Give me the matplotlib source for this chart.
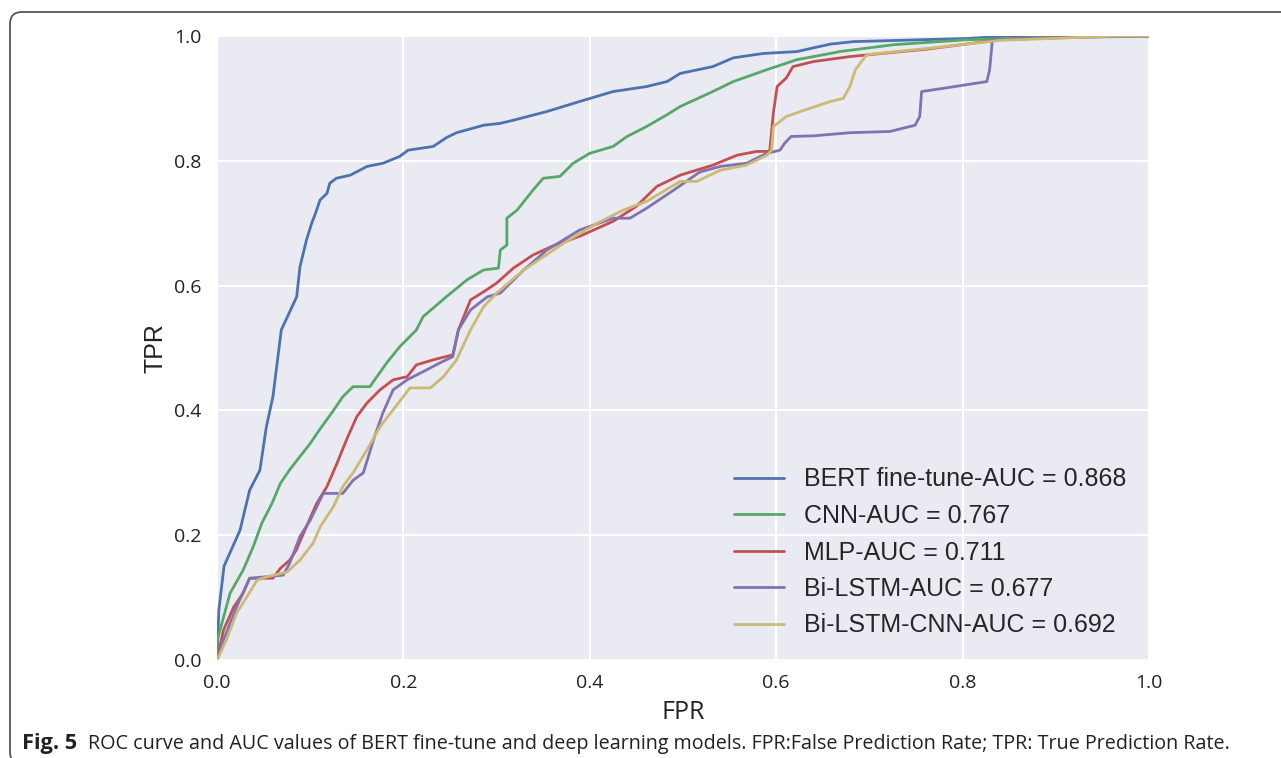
import matplotlib
matplotlib.use("Agg")
import matplotlib.pyplot as plt
from matplotlib.patches import FancyBboxPatch

plt.style.use("seaborn-v0_8-darkgrid")

# ROC curves
bert_fpr = [0, 0.002, 0.0075, 0.0104, 0.0247, 0.035, 0.046, 0.053, 0.060, 0.069, 0.0855, 0.089, 0.096,
            0.1016, 0.105, 0.1105, 0.118, 0.121, 0.128, 0.143, 0.161, 0.178, 0.196, 0.205, 0.232, 0.246,
            0.257, 0.286, 0.304, 0.318, 0.354, 0.389, 0.425, 0.461, 0.483, 0.497, 0.532, 0.554, 0.586,
            0.622, 0.658, 0.683, 0.804, 0.85, 1.0]
bert_tpr = [0, 0.08, 0.15, 0.16, 0.208, 0.272, 0.304, 0.374, 0.422, 0.529, 0.582, 0.630, 0.673,
            0.700, 0.713, 0.737, 0.748, 0.764, 0.772, 0.777, 0.791, 0.796, 0.807, 0.817, 0.823, 0.837,
            0.845, 0.857, 0.860, 0.865, 0.879, 0.895, 0.911, 0.919, 0.927, 0.940, 0.951, 0.965, 0.972,
            0.975, 0.987, 0.991, 0.996, 1.0, 1.0]

cnn_fpr = [0, 0, 0.014, 0.028, 0.039, 0.048, 0.059, 0.068, 0.078, 0.089, 0.1, 0.11, 0.125, 0.135, 0.146,
           0.164, 0.182, 0.196, 0.214, 0.221, 0.246, 0.268, 0.286, 0.302, 0.304, 0.311, 0.311, 0.322,
           0.339, 0.35, 0.368, 0.382, 0.4, 0.425, 0.44, 0.461, 0.483, 0.497, 0.532, 0.554, 0.59, 0.622,
           0.658, 0.668, 0.726, 0.804, 0.947, 1.0]
cnn_tpr = [0, 0.03, 0.107, 0.144, 0.182, 0.219, 0.251, 0.283, 0.305, 0.326, 0.347, 0.369, 0.4, 0.422, 0.438,
           0.438, 0.476, 0.502, 0.529, 0.55, 0.582, 0.609, 0.625, 0.628, 0.657, 0.665, 0.708, 0.721,
           0.753, 0.772, 0.775, 0.796, 0.812, 0.823, 0.839, 0.855, 0.874, 0.887, 0.911, 0.927, 0.946, 0.962,
           0.972, 0.975, 0.986, 0.994, 1.0, 1.0]

mlp_fpr = [0, 0.007, 0.018, 0.028, 0.035, 0.06, 0.068, 0.078, 0.085, 0.096, 0.107, 0.118, 0.129, 0.139,
           0.15, 0.161, 0.175, 0.189, 0.204, 0.214, 0.232, 0.253, 0.259, 0.272, 0.286, 0.3, 0.318, 0.339,
           0.361, 0.389, 0.425, 0.45, 0.472, 0.497, 0.532, 0.558, 0.579, 0.593, 0.597, 0.601, 0.611, 0.618,
           0.64, 0.679, 0.762, 0.84, 0.95, 1.0]
mlp_tpr = [0, 0.048, 0.085, 0.107, 0.131, 0.131, 0.147, 0.16, 0.176, 0.214, 0.251, 0.278, 0.316, 0.353,
           0.39, 0.412, 0.433, 0.449, 0.454, 0.473, 0.481, 0.489, 0.529, 0.577, 0.59, 0.604, 0.628, 0.649,
           0.664, 0.679, 0.703, 0.727, 0.759, 0.777, 0.793, 0.809, 0.815, 0.815, 0.877, 0.919, 0.933, 0.951,
           0.959, 0.967, 0.979, 0.994, 1.0, 1.0]

lstm_fpr = [0, 0.007, 0.021, 0.035, 0.071, 0.078, 0.089, 0.1, 0.114, 0.135, 0.146, 0.157, 0.168, 0.178,
            0.189, 0.204, 0.225, 0.239, 0.253, 0.259, 0.272, 0.29, 0.304, 0.329, 0.354, 0.389, 0.425, 0.443,
            0.461, 0.49, 0.518, 0.54, 0.568, 0.59, 0.604, 0.609, 0.616, 0.64, 0.679, 0.722, 0.749, 0.754,
            0.756, 0.783, 0.826, 0.829, 0.832, 0.9, 1.0]
lstm_tpr = [0, 0.032, 0.085, 0.131, 0.136, 0.155, 0.198, 0.224, 0.267, 0.267, 0.288, 0.3, 0.353, 0.396,
            0.433, 0.449, 0.465, 0.476, 0.486, 0.529, 0.561, 0.582, 0.588, 0.625, 0.657, 0.689, 0.708, 0.708,
            0.724, 0.753, 0.782, 0.791, 0.796, 0.812, 0.817, 0.828, 0.839, 0.84, 0.845, 0.847, 0.857, 0.871,
            0.911, 0.917, 0.927, 0.946, 0.994, 0.997, 1.0]

lstm_cnn_fpr = [0, 0.01, 0.021, 0.032, 0.043, 0.053, 0.075, 0.089, 0.103, 0.111, 0.125, 0.135, 0.146, 0.161,
                0.175, 0.189, 0.207, 0.229, 0.243, 0.257, 0.272, 0.286, 0.3, 0.329, 0.372, 0.408, 0.436,
                0.461, 0.497, 0.515, 0.54, 0.568, 0.59, 0.595, 0.597, 0.611, 0.626, 0.658, 0.672, 0.679,
                0.685, 0.697, 0.768, 0.84, 0.965, 1.0]
lstm_cnn_tpr = [0, 0.032, 0.075, 0.101, 0.128, 0.133, 0.141, 0.16, 0.187, 0.214, 0.246, 0.278, 0.3, 0.337,
                0.374, 0.401, 0.436, 0.436, 0.454, 0.481, 0.529, 0.566, 0.588, 0.625, 0.668, 0.7, 0.721,
                0.735, 0.767, 0.767, 0.785, 0.793, 0.809, 0.817, 0.855, 0.871, 0.879, 0.895, 0.9, 0.919,
                0.946, 0.97, 0.981, 0.993, 1.0, 1.0]

labels = ["BERT fine-tune-AUC = 0.868", "CNN-AUC = 0.767", "MLP-AUC = 0.711",
          "Bi-LSTM-AUC = 0.677", "Bi-LSTM-CNN-AUC = 0.692"]
colours = ["#4C72B0", "#55A868", "#C44E52", "#8172B2", "#CCB974"]
ticks = [0.0, 0.2, 0.4, 0.6, 0.8, 1.0]

caption_bold = "Fig. 5"
caption_text = ("ROC curve and AUC values of BERT fine-tune and deep learning models. "
                "FPR:False Prediction Rate; TPR: True Prediction Rate.")

W, H = 1281, 758
fig = plt.figure(figsize=(W / 100, H / 100), dpi=100)
ax = fig.add_axes([217 / W, 1 - 660 / H, (1149 - 217) / W, (660 - 36) / H])
ax.grid(True, color="white", lw=1.5)

curves = [(bert_fpr, bert_tpr), (cnn_fpr, cnn_tpr), (mlp_fpr, mlp_tpr),
          (lstm_fpr, lstm_tpr), (lstm_cnn_fpr, lstm_cnn_tpr)]
for (fpr, tpr), lab, c in zip(curves, labels, colours):
    ax.plot(fpr, tpr, lw=2.0, color=c, label=lab)

ax.set_xlim(0, 1)
ax.set_ylim(0, 1)
ax.set_xticks(ticks)
ax.set_yticks(ticks)
ax.set_xticklabels([f"{t:.1f}" for t in ticks], family="Open Sans", fontsize=14, color="#222222")
ax.set_yticklabels([f"{t:.1f}" for t in ticks], family="Open Sans", fontsize=14, color="#222222")
ax.tick_params(axis="x", pad=10, length=0)
ax.tick_params(axis="y", pad=11, length=0)
ax.set_xlabel("FPR", family="Open Sans", fontsize=18, color="#222222", labelpad=6)
ax.set_ylabel("TPR", fontsize=18, color="#222222", labelpad=5)

ax.legend(loc="lower right", fontsize=18, frameon=False, handlelength=2.0,
          labelspacing=0.5, borderaxespad=0.5)

# frame around the figure panel
frame = FancyBboxPatch((10, -6), 1400, 752, boxstyle="round,pad=0,rounding_size=12",
                       transform=None, fill=False, edgecolor="#555555", lw=1.3)
fig.add_artist(frame)

# caption
t1 = fig.text(22 / W, 1 - 744 / H, caption_bold, family="Open Sans", fontweight="bold",
              fontsize=13, va="center", color="#222222")
t2 = fig.text(88 / W, 1 - 744 / H, caption_text, family="Open Sans",
              fontsize=13, va="center", color="#222222")
fig.canvas.draw()
r = fig.canvas.get_renderer()
w2 = t2.get_window_extent(r).width
t2.set_fontsize(13 * (1226 - 88) / w2)
w1 = t1.get_window_extent(r).width
t1.set_fontsize(13 * (77 - 22) / w1)

fig.savefig("out.png", dpi=100)
